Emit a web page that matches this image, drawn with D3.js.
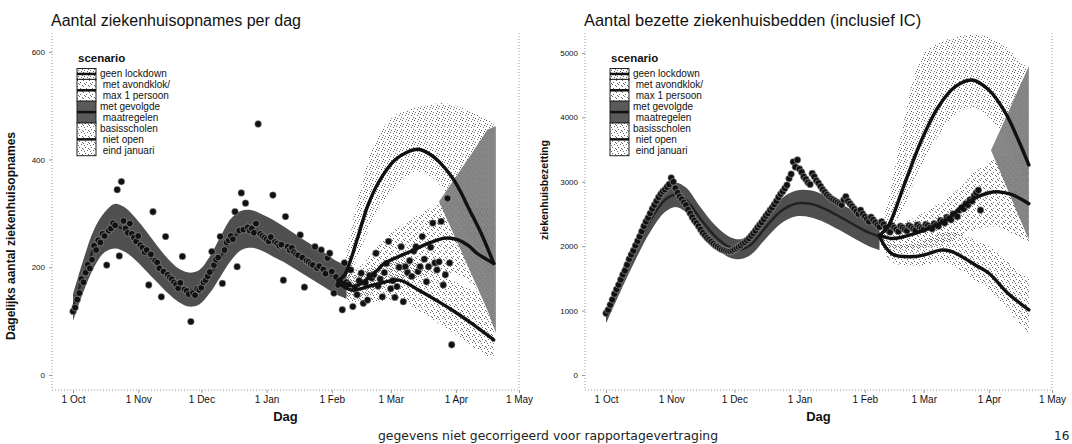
<!DOCTYPE html>
<html lang="nl">
<head>
<meta charset="UTF-8">
<script src="https://cdn.jsdelivr.net/npm/d3@7"></script>
<title>Ziekenhuis scenario's</title>
<style>
  body { margin: 0; background: #fff; }
  svg { font-family: "Liberation Sans", Arial, sans-serif; }
</style>
</head>
<body>
<svg></svg>
<script>
const width = 1072;
const height = 444;

// dates are 'MM-DD', Sep-Dec = 2020, Jan-May = 2021
const parseDay = s => new Date((+s.slice(0, 2) >= 9 ? 2020 : 2021), +s.slice(0, 2) - 1, +s.slice(3, 5));

// ---------- left: ziekenhuisopnames per dag ----------
const admStart = '10-01';
const admissions = [
  118, 125, 140, 152, 178, 172, 190,
  205, 198, 214, 240, 232, 250, 246,
  262, 258, 204, 268, 272, 282, 278,
  344, 221, 359, 286, 272, 264, 281,
  262, 255, 248, 258, 241, 236, 228,
  232, 167, 224, 303, 212, 209, 198,
  145, 192, 257, 186, 181, 178, 172,
  168, 161, 171, 220, 159, 156, 150,
  99, 152, 148, 160, 158, 162, 172,
  176, 183, 191, 229, 204, 214, 218,
  257, 170, 232, 246, 250, 258, 252,
  303, 201, 268, 338, 270, 319, 274,
  268, 272, 264, 281, 466, 262, 258,
  255, 252, 248, 256, 334, 247, 244,
  240, 242, 176, 294, 238, 232, 236,
  228, 224, 222, 260, 218, 163, 212,
  210, 206, 204, 238, 198, 202, 232,
  196, 188, 217, 226, 192, 152, 182,
  167, 176, 121, 208, 172, 168, 195,
  127, 160, 149, 175, 189, 133, 171,
  139, 185, 180, 186, 226, 165, 178,
  145, 190, 207, 248, 160, 175, 144,
  164, 200, 238, 136, 201, 190, 212,
  183, 230, 238, 192, 201, 257, 215,
  173, 201, 237, 282, 208, 195, 210,
  285, 167, 186, 328, 208, 56
];

const fitDatesL = ['10-01','10-06','10-11','10-16','10-21','10-26','10-31','11-05','11-10','11-15','11-20','11-25','11-30','12-05','12-10','12-15','12-20','12-25','12-30','01-04','01-09','01-14','01-19','01-24','01-29','02-03','02-08'];
const fitMidL = [125,185,235,265,276,268,250,228,205,183,166,157,162,185,218,250,268,270,262,252,242,230,218,205,193,180,172];
const fitLoL  = [100,155,200,228,235,228,212,192,172,152,136,127,131,152,182,212,232,236,230,220,210,198,186,174,162,150,142];
const fitHiL  = [150,215,270,302,318,310,290,266,240,216,198,190,195,220,256,290,305,306,298,288,276,263,250,238,226,212,204];

const topDatesL = ['02-04','02-07','02-10','02-13','02-18','02-23','03-03','03-09','03-14','03-20','03-25','03-30','04-03','04-07','04-13','04-19'];
const topL   = [175,185,214,251,313,356,399,414,419,409,392,368,342,310,263,207];
const topLoL = [165,170,190,215,265,305,350,370,378,368,350,325,295,260,215,165];
const topHiL = [190,215,265,320,395,445,482,492,497,502,505,502,497,490,480,470];

const midDatesL = ['02-04','02-12','02-22','02-26','03-11','03-14','03-20','03-27','04-02','04-07','04-11','04-15','04-19'];
const midL   = [176,165,192,207,230,236,246,254,251,240,226,216,207];
const midLoL = [160,140,155,165,180,183,188,190,185,175,160,150,140];
const midHiL = [195,195,235,255,290,298,310,322,325,322,315,310,305];

const lowDatesL = ['02-04','02-10','02-21','03-05','03-14','03-22','03-30','04-08','04-19'];
const lowL   = [172,158,167,176,158,140,121,97,65];
const lowLoL = [155,135,135,140,120,100,80,55,28];
const lowHiL = [190,185,200,215,205,190,175,160,140];

const wedgeDatesL = ['03-24','04-01','04-09','04-16','04-20'];
const wedgeLoL = [322,252,182,120,78];
const wedgeHiL = [322,368,414,456,462];

// ---------- right: bezette ziekenhuisbedden ----------
const bedStart = '10-01';
const beds = [
  960, 1010, 1090, 1170, 1260, 1330, 1400,
  1480, 1560, 1620, 1710, 1800, 1870, 1930,
  2010, 2080, 2150, 2230, 2310, 2380, 2440,
  2510, 2580, 2640, 2700, 2760, 2810, 2850,
  2880, 2920, 2960, 3060, 3000, 2900, 2830,
  2770, 2730, 2680, 2640, 2570, 2510, 2450,
  2400, 2360, 2310, 2260, 2210, 2170, 2130,
  2100, 2070, 2040, 2010, 1990, 1970, 1950,
  1940, 1930, 1920, 1920, 1930, 1950, 1970,
  1990, 2010, 2040, 2060, 2090, 2120, 2160,
  2200, 2240, 2290, 2330, 2370, 2420, 2470,
  2510, 2560, 2600, 2650, 2700, 2760, 2810,
  2850, 2900, 2950, 3050, 3120, 3310, 3230,
  3340, 3200, 3150, 3080, 3040, 2990, 2960,
  3130, 3080, 3020, 2980, 2930, 2880, 2840,
  2800, 2770, 2740, 2720, 2700, 2680, 2660,
  2640, 2720, 2770, 2700, 2660, 2620, 2580,
  2540, 2500, 2560, 2500, 2460, 2420, 2380,
  2450, 2410, 2370, 2330, 2300, 2380, 2340,
  2290, 2250, 2220, 2320, 2290, 2260, 2230,
  2310, 2290, 2260, 2240, 2320, 2300, 2270,
  2250, 2330, 2300, 2280, 2260, 2340, 2320,
  2290, 2270, 2350, 2330, 2310, 2400, 2380,
  2360, 2450, 2430, 2410, 2500, 2480, 2460,
  2560, 2600, 2580, 2660, 2640, 2720, 2700,
  2780, 2830, 2870, 2560
];

const fitDatesR = ['10-01','10-08','10-15','10-22','10-29','11-03','11-08','11-15','11-22','11-29','12-04','12-09','12-16','12-23','12-30','01-06','01-13','01-20','01-27','02-03','02-08'];
const fitMidR = [900,1450,1950,2400,2720,2800,2720,2420,2150,1980,1950,2030,2300,2540,2660,2660,2580,2460,2330,2210,2150];
const fitLoR  = [800,1310,1790,2220,2530,2610,2530,2240,1980,1820,1800,1870,2120,2350,2460,2450,2370,2250,2120,2000,1940];
const fitHiR  = [1000,1590,2110,2580,2910,2990,2910,2600,2320,2140,2110,2190,2480,2730,2860,2870,2790,2670,2540,2420,2360];

const topDatesR = ['02-08','02-12','02-20','02-28','03-08','03-16','03-24','04-01','04-09','04-15','04-20'];
const topR   = [2170,2303,2977,3649,4166,4477,4581,4425,4064,3649,3261];
const topLoR = [2100,2150,2650,3250,3720,4050,4150,4000,3650,3250,2900];
const topHiR = [2250,2700,4000,4950,5150,5250,5280,5250,5100,4900,4750];

const midDatesR = ['02-08','02-14','02-25','03-12','03-18','03-25','04-01','04-05','04-12','04-20'];
const midR   = [2170,2120,2200,2410,2580,2740,2830,2846,2800,2660];
const midLoR = [2050,1950,1950,2050,2150,2250,2300,2300,2200,2050];
const midHiR = [2300,2300,2450,2750,2900,3150,3300,3400,3400,3350];

const lowDatesR = ['02-08','02-14','02-25','03-03','03-09','03-14','03-19','03-25','04-01','04-10','04-20'];
const lowR   = [2150,1880,1840,1880,1940,1920,1840,1720,1580,1270,1010];
const lowLoR = [2050,1750,1700,1720,1760,1720,1620,1480,1320,1000,650];
const lowHiR = [2250,2050,2050,2120,2200,2220,2180,2100,2000,1750,1500];

const wedgeDatesR = ['04-02','04-08','04-14','04-20'];
const wedgeLoR = [3490,3030,2560,2100];
const wedgeHiR = [3490,3920,4360,4800];

// ---------- axes / legend text ----------
const xTickDates = ['10-01','11-01','12-01','01-01','02-01','03-01','04-01','05-01'];
const xTickLabels = ['1 Oct','1 Nov','1 Dec','1 Jan','1 Feb','1 Mar','1 Apr','1 May'];
const yTicksL = [0, 200, 400, 600];
const yTicksR = [0, 1000, 2000, 3000, 4000, 5000];
const scenarioLabels = [
  ['geen lockdown'],
  [' met avondklok/', ' max 1 persoon'],
  ['met gevolgde', ' maatregelen'],
  ['basisscholen', ' niet open', ' eind januari']
];
const scenarioKeyFill = ['url(#stip1)', 'url(#stip2)', '#5a5a5a', 'url(#stip3)'];

// ---------- drawing ----------
const svg = d3.select('svg').attr('width', width).attr('height', height);
const defs = svg.append('defs');

// stipple patterns mimic the scanned light ribbons
const stipples = [
  ['stip1', [[0, 0], [3, 1], [5, 3], [1, 4], [4, 5]]],
  ['stip2', [[2, 0], [5, 1], [0, 2], [3, 4], [1, 5]]],
  ['stip3', [[4, 0], [1, 1], [2, 3], [5, 4], [0, 5]]]
];
stipples.forEach(([id, pts]) => {
  const p = defs.append('pattern').attr('id', id)
    .attr('patternUnits', 'userSpaceOnUse').attr('width', 6).attr('height', 6);
  p.selectAll('rect').data(pts).join('rect')
    .attr('x', d => d[0]).attr('y', d => d[1])
    .attr('width', 1).attr('height', 1).attr('fill', '#6a6a6a');
});

const xDomain = [new Date(2020, 8, 21), new Date(2021, 4, 1)];
const plotTop = 33, plotBottom = 390;

const zip = (dates, a, b, c) => dates.map((d, i) => ({ date: parseDay(d), v: a[i], lo: b ? b[i] : null, hi: c ? c[i] : null }));
const daily = (start, vals) => {
  const s = parseDay(start);
  return vals.map((v, i) => ({ date: d3.timeDay.offset(s, i), v }));
};

function panel(opt) {
  const x = d3.scaleTime().domain(xDomain).range([opt.left, opt.right]);
  const y = d3.scaleLinear().domain(opt.yDomain).range([plotBottom, plotTop]);
  const g = svg.append('g');

  defs.append('clipPath').attr('id', opt.id)
    .append('rect').attr('x', opt.left).attr('y', plotTop)
    .attr('width', opt.right - opt.left).attr('height', plotBottom - plotTop);

  const plot = g.append('g').attr('clip-path', `url(#${opt.id})`);
  const smooth = d3.curveCatmullRom.alpha(0.5);
  const area = d3.area().x(d => x(d.date)).y0(d => y(d.lo)).y1(d => y(d.hi)).curve(smooth);
  const wedgeArea = d3.area().x(d => x(d.date)).y0(d => y(d.lo)).y1(d => y(d.hi));
  const line = d3.line().x(d => x(d.date)).y(d => y(d.v)).curve(smooth);

  // scenario ribbons
  plot.append('path').datum(opt.top).attr('d', area).attr('fill', 'url(#stip1)');
  plot.append('path').datum(opt.mid).attr('d', area).attr('fill', 'url(#stip2)');
  plot.append('path').datum(opt.low).attr('d', area).attr('fill', 'url(#stip3)');
  plot.append('path').datum(opt.wedge).attr('d', wedgeArea).attr('fill', '#7a7a7a').attr('opacity', 0.9);

  // fitted band
  plot.append('path').datum(opt.fit).attr('d', area).attr('fill', '#4f4f4f');
  plot.append('path').datum(opt.fit).attr('d', line).attr('fill', 'none').attr('stroke', '#222').attr('stroke-width', 2.5);

  // observations
  plot.append('g').selectAll('circle').data(opt.dots).join('circle')
    .attr('cx', d => x(d.date)).attr('cy', d => y(d.v)).attr('r', 3.4)
    .attr('fill', '#111').attr('stroke', '#bbb').attr('stroke-width', 0.5);

  // scenario lines
  [opt.top, opt.mid, opt.low].forEach(s => {
    plot.append('path').datum(s).attr('d', line)
      .attr('fill', 'none').attr('stroke', '#111').attr('stroke-width', 3.4).attr('stroke-linecap', 'round');
  });

  // dotted panel border (left, bottom, right)
  const border = g.append('g').attr('stroke', '#999').attr('stroke-dasharray', '1,2').attr('fill', 'none');
  border.append('line').attr('x1', opt.left).attr('x2', opt.left).attr('y1', plotTop).attr('y2', plotBottom);
  border.append('line').attr('x1', opt.left).attr('x2', opt.right).attr('y1', plotBottom).attr('y2', plotBottom);
  border.append('line').attr('x1', opt.right).attr('x2', opt.right).attr('y1', plotTop).attr('y2', plotBottom);

  const xAxis = d3.axisBottom(x)
    .tickValues(xTickDates.map(parseDay))
    .tickFormat((d, i) => xTickLabels[i])
    .tickSize(3).tickPadding(3);
  const xg = g.append('g').attr('transform', `translate(0,${plotBottom})`).call(xAxis);
  xg.select('.domain').remove();
  xg.selectAll('line').attr('stroke', '#999');
  xg.selectAll('text').attr('font-size', 10).attr('fill', '#111').attr('font-family', '"Liberation Sans", Arial, sans-serif');

  const yAxis = d3.axisLeft(y).tickValues(opt.yTicks).tickFormat(d3.format('d')).tickSize(3).tickPadding(4);
  const yg = g.append('g').attr('transform', `translate(${opt.left},0)`).call(yAxis);
  yg.select('.domain').remove();
  yg.selectAll('line').attr('stroke', '#999');
  yg.selectAll('text').attr('font-size', 8).attr('fill', '#111').attr('font-family', '"Liberation Sans", Arial, sans-serif');

  // titles
  g.append('text').attr('x', opt.left - 1).attr('y', 26).attr('font-size', opt.titleSize).attr('fill', '#111').text(opt.title);
  g.append('text').attr('x', (opt.left + opt.right) / 2).attr('y', 421)
    .attr('text-anchor', 'middle').attr('font-size', 13).attr('font-weight', 'bold').attr('fill', '#111').text('Dag');
  g.append('text').attr('transform', `translate(${opt.yLabelX},${opt.yLabelY}) rotate(-90)`)
    .attr('text-anchor', 'middle').attr('font-size', opt.yLabelSize).attr('font-weight', 'bold').attr('fill', '#111')
    .text(opt.yLabel);

  // legend
  const lg = g.append('g').attr('transform', `translate(${opt.left + 25},0)`);
  lg.append('text').attr('x', 1).attr('y', 62).attr('font-size', 11.5).attr('font-weight', 'bold').attr('fill', '#111').text('scenario');
  const lineH = 10.9;
  let row = 0;
  scenarioLabels.forEach((lines, i) => {
    const y0 = 68.5 + row * lineH;
    const h = lines.length * lineH;
    lg.append('rect').attr('x', 0).attr('y', y0).attr('width', 19).attr('height', h)
      .attr('fill', '#fff');
    lg.append('rect').attr('x', 0).attr('y', y0).attr('width', 19).attr('height', h)
      .attr('fill', scenarioKeyFill[i]).attr('stroke', '#222').attr('stroke-width', 1);
    lg.append('line').attr('x1', 0).attr('x2', 19).attr('y1', y0 + h / 2).attr('y2', y0 + h / 2)
      .attr('stroke', '#111').attr('stroke-width', 2.5);
    lines.forEach((t, j) => {
      lg.append('text').attr('x', 23).attr('y', y0 + (j + 0.5) * lineH + 3.5)
        .attr('font-size', 10).attr('fill', '#111')
        .style('white-space', 'pre').text(t);
    });
    row += lines.length;
  });
}

panel({
  id: 'clipL', left: 52, right: 519, yDomain: [-28, 635], yTicks: yTicksL,
  title: 'Aantal ziekenhuisopnames per dag', titleSize: 16,
  yLabel: 'Dagelijks aantal ziekenhuisopnames', yLabelX: 15, yLabelY: 236, yLabelSize: 12,
  dots: daily(admStart, admissions),
  fit: zip(fitDatesL, fitMidL, fitLoL, fitHiL),
  top: zip(topDatesL, topL, topLoL, topHiL),
  mid: zip(midDatesL, midL, midLoL, midHiL),
  low: zip(lowDatesL, lowL, lowLoL, lowHiL),
  wedge: zip(wedgeDatesL, wedgeLoL, wedgeLoL, wedgeHiL)
});

panel({
  id: 'clipR', left: 585, right: 1052, yDomain: [-233, 5311], yTicks: yTicksR,
  title: 'Aantal bezette ziekenhuisbedden (inclusief IC)', titleSize: 16.4,
  yLabel: 'ziekenhuisbezetting', yLabelX: 548, yLabelY: 190, yLabelSize: 10.5,
  dots: daily(bedStart, beds),
  fit: zip(fitDatesR, fitMidR, fitLoR, fitHiR),
  top: zip(topDatesR, topR, topLoR, topHiR),
  mid: zip(midDatesR, midR, midLoR, midHiR),
  low: zip(lowDatesR, lowR, lowLoR, lowHiR),
  wedge: zip(wedgeDatesR, wedgeLoR, wedgeLoR, wedgeHiR)
});

// footer
svg.append('text').attr('x', 548).attr('y', 440).attr('text-anchor', 'middle')
  .attr('font-family', '"DejaVu Sans", sans-serif').attr('font-size', 12.4).attr('fill', '#222')
  .text('gegevens niet gecorrigeerd voor rapportagevertraging');
svg.append('text').attr('x', 1054).attr('y', 440)
  .attr('font-family', '"DejaVu Sans", sans-serif').attr('font-size', 12).attr('fill', '#222')
  .text('16');
</script>
</body>
</html>
